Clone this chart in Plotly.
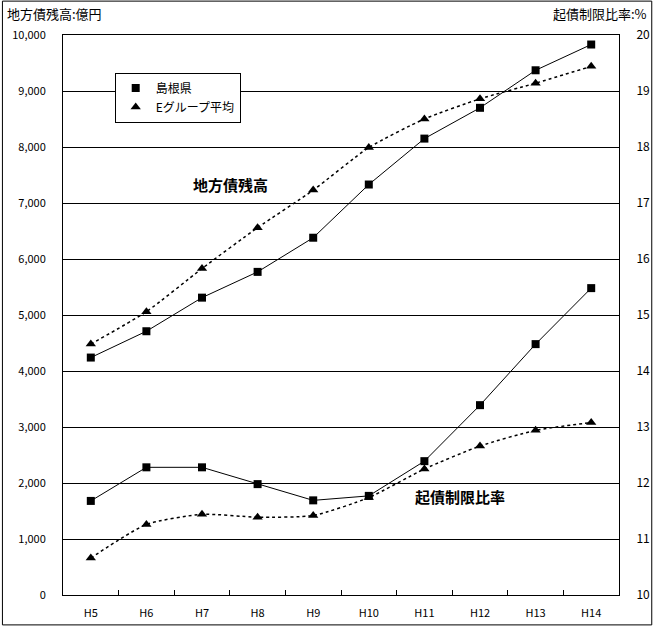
import plotly.graph_objects as go

categories = ["H5", "H6", "H7", "H8", "H9", "H10", "H11", "H12", "H13", "H14"]
shimane_debt = [4240, 4710, 5310, 5770, 6380, 7330, 8150, 8700, 9370, 9830]
egroup_debt = [4480, 5060, 5830, 6560, 7230, 7990, 8500, 8860, 9140, 9440]
shimane_ratio = [11.68, 12.28, 12.28, 11.98, 11.69, 11.77, 12.39, 13.39, 14.48, 15.48]
egroup_ratio = [10.66, 11.26, 11.44, 11.39, 11.42, 11.74, 12.25, 12.66, 12.94, 13.08]
left_ticks = list(range(0, 10001, 1000))
right_ticks = list(range(10, 21))

FONT = "Noto Sans CJK JP"

fig = go.Figure()

sq = dict(symbol="square", size=8, color="black")
tri = dict(symbol="triangle-up", size=9, color="black")

fig.add_trace(go.Scatter(x=categories, y=egroup_debt, mode="lines+markers",
                         line=dict(color="black", width=1.5, dash="dot", shape="spline", smoothing=0.6),
                         marker=tri, showlegend=False, yaxis="y"))
fig.add_trace(go.Scatter(x=categories, y=shimane_debt, mode="lines+markers",
                         line=dict(color="black", width=1), marker=sq,
                         showlegend=False, yaxis="y"))
fig.add_trace(go.Scatter(x=categories, y=egroup_ratio, mode="lines+markers",
                         line=dict(color="black", width=1.5, dash="dot", shape="spline", smoothing=0.6),
                         marker=tri, showlegend=False, yaxis="y2"))
fig.add_trace(go.Scatter(x=categories, y=shimane_ratio, mode="lines+markers",
                         line=dict(color="black", width=1), marker=sq,
                         showlegend=False, yaxis="y2"))

# legend entries
fig.add_trace(go.Scatter(x=[None], y=[None], mode="markers", marker=sq, name="島根県"))
fig.add_trace(go.Scatter(x=[None], y=[None], mode="markers", marker=tri, name="Eグループ平均"))

fig.update_layout(
    width=662, height=632,
    margin=dict(l=63, r=39, t=35, b=35),
    paper_bgcolor="white", plot_bgcolor="white",
    font=dict(family=FONT, size=11, color="black"),
    xaxis=dict(type="category", categoryorder="array", categoryarray=categories,
               showline=True, linecolor="black", linewidth=1, mirror=True,
               ticks="inside", ticklen=5, tickcolor="black", tickson="boundaries",
               showgrid=False, zeroline=False, ticklabelstandoff=8,
               tickfont=dict(size=11), range=[-0.5, 9.5]),
    yaxis=dict(range=[0, 10000], tickvals=left_ticks, tickformat=",d",
               showgrid=True, gridcolor="black", gridwidth=1,
               showline=True, linecolor="black", linewidth=1,
               zeroline=False, ticks="", ticklabelstandoff=14, tickfont=dict(size=11)),
    yaxis2=dict(range=[10, 20], tickvals=right_ticks, overlaying="y", side="right",
                showgrid=False, showline=True, linecolor="black", linewidth=1,
                zeroline=False, ticks="", ticklabelstandoff=14, tickfont=dict(size=12)),
    legend=dict(x=0.093, y=0.933, xanchor="left", yanchor="top",
                bgcolor="white", bordercolor="black", borderwidth=1,
                font=dict(size=12), itemwidth=30, tracegroupgap=0),
    showlegend=True,
)

fig.add_annotation(text="地方債残高:億円", xref="paper", yref="paper",
                   x=-58 / 560, y=1 + 22 / 562, xanchor="left", yanchor="middle",
                   showarrow=False, font=dict(size=13))
fig.add_annotation(text="起債制限比率:%", xref="paper", yref="paper",
                   x=1 + 30 / 560, y=1 + 22 / 562, xanchor="right", yanchor="middle",
                   showarrow=False, font=dict(size=13))
fig.add_annotation(text="<b>地方債残高</b>", xref="paper", yref="paper",
                   x=(232 - 63) / 560, y=(597 - 185) / 562, xanchor="center", yanchor="middle",
                   showarrow=False, font=dict(size=15))
fig.add_annotation(text="<b>起債制限比率</b>", xref="paper", yref="paper",
                   x=(463 - 63) / 560, y=(597 - 498) / 562, xanchor="center", yanchor="middle",
                   showarrow=False, font=dict(size=15))

# outer frame
fig.add_shape(type="rect", xref="paper", yref="paper",
              x0=(2 - 63) / 560, x1=(656 - 63) / 560,
              y0=(597 - 627) / 562, y1=(597 - 1) / 562,
              line=dict(color="black", width=1), fillcolor="rgba(0,0,0,0)", layer="below")

fig.write_html("out.html", config={"displayModeBar": False},
               post_script="document.body.style.margin='0px';document.body.style.padding='0px';")
